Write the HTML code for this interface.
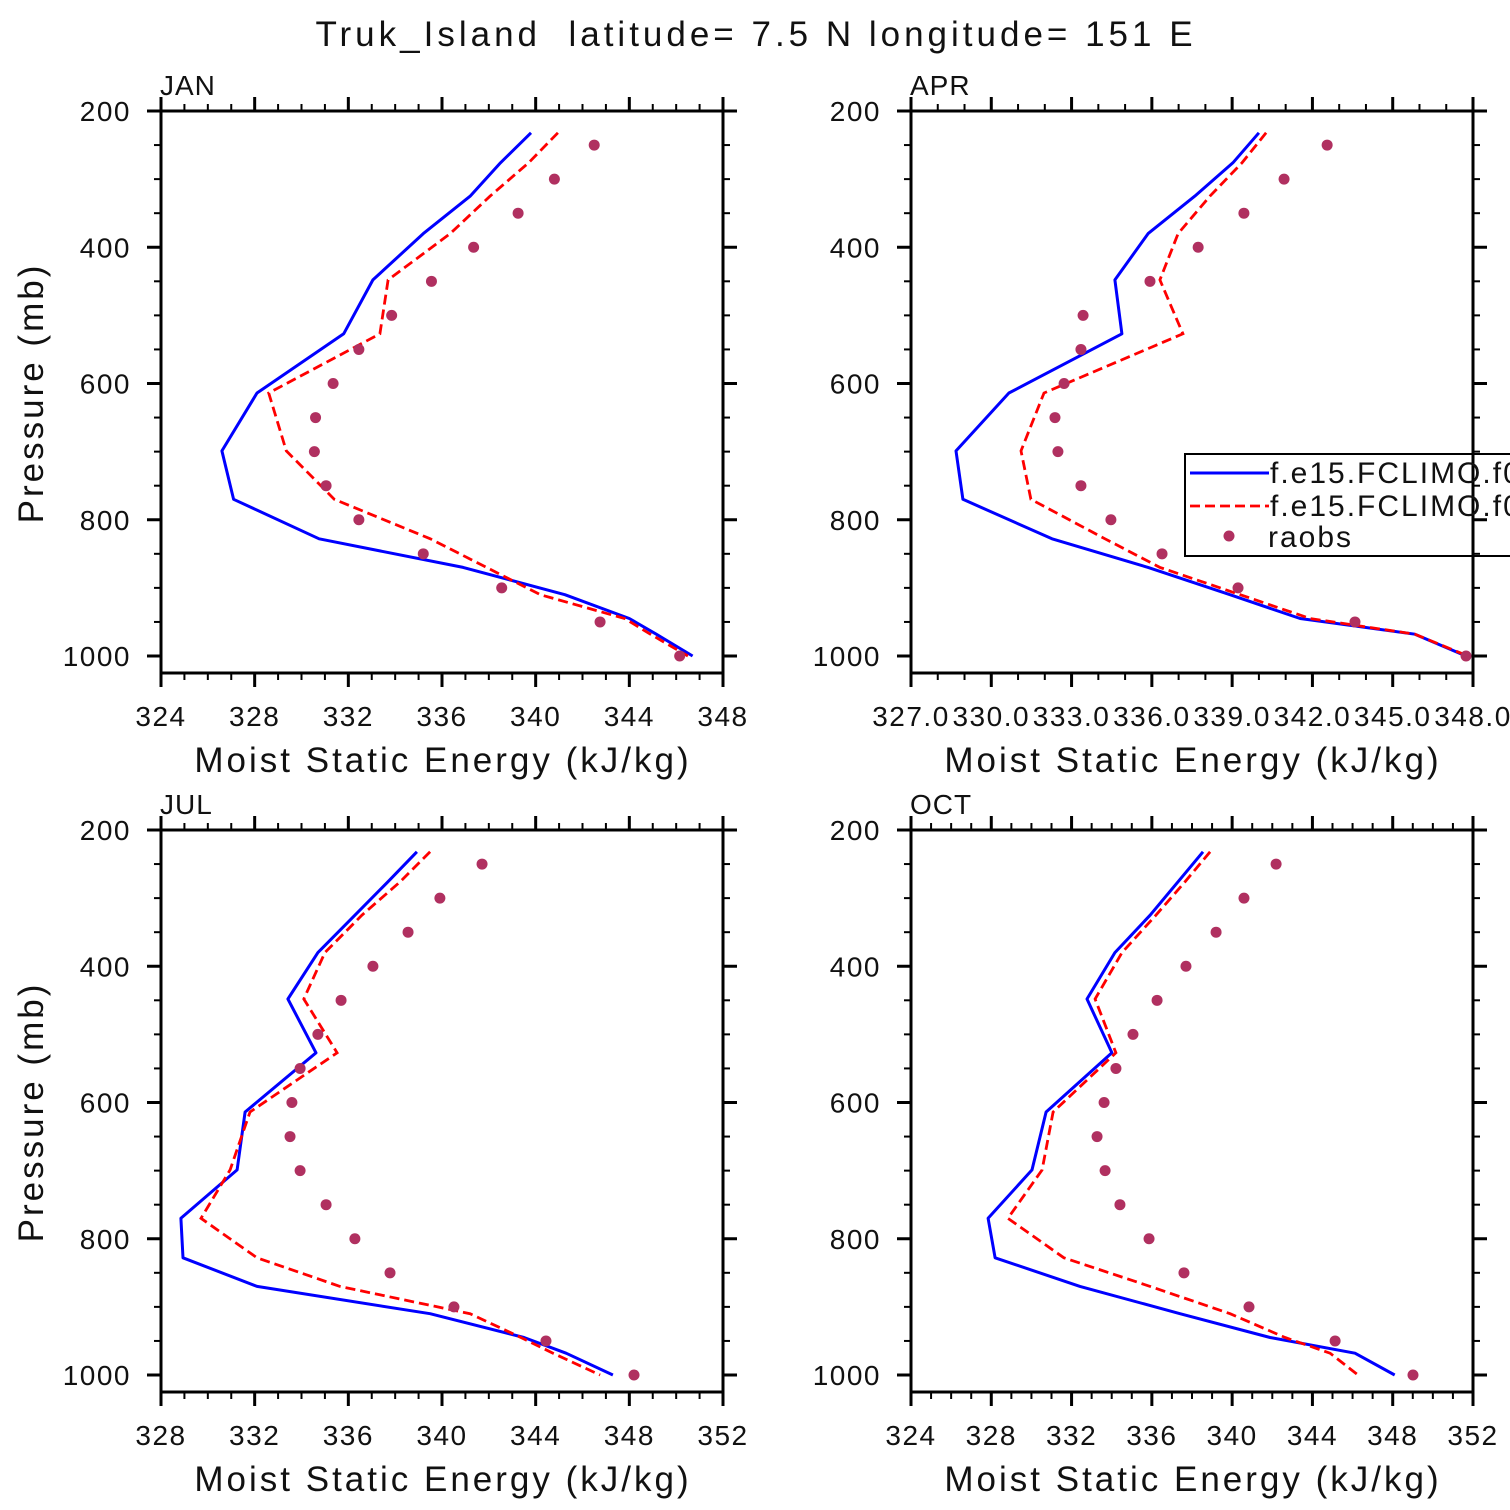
<!DOCTYPE html>
<html><head><meta charset="utf-8"><style>
html,body{margin:0;padding:0;background:#fff;}
svg{display:block;font-family:"Liberation Sans",sans-serif;}
</style></head><body>
<svg id="fig" width="1510" height="1510" viewBox="0 0 1510 1510">
<text x="756" y="46" text-anchor="middle" font-size="35" fill="#111" letter-spacing="4" style="white-space:pre">Truk_Island  latitude= 7.5 N longitude= 151 E</text>
</svg>
<script>
// Shared data
const modelLevels = [232,276,325,380,448,527,614,699,770,828,870,910,945,968,1000];
const obsLevels = [250,300,350,400,450,500,550,600,650,700,750,800,850,900,950,1000];
const yTicks = [200,400,600,800,1000];
// JAN
const janModel1 = [339.8,338.5,337.2,335.2,333.05,331.8,328.1,326.6,327.1,330.75,336.9,341.25,344.0,345.15,346.7];
const janModel2 = [340.95,339.7,338.05,336.35,333.7,333.35,328.6,329.35,331.4,335.5,337.9,340.2,343.8,344.9,346.5];
const janObs = [342.5,340.8,339.25,337.35,335.55,333.85,332.45,331.35,330.6,330.55,331.05,332.45,335.2,338.55,342.75,346.15];
const janTicks = [324,328,332,336,340,344,348];
// APR
const aprModel1 = [340.0,339.03,337.6,335.86,334.62,334.88,330.66,328.68,328.94,332.27,335.86,338.92,341.54,345.83,347.74];
const aprModel2 = [340.27,339.37,338.17,336.98,336.3,337.16,331.97,331.11,331.48,334.25,336.3,339.3,341.91,345.83,347.81];
const aprObs = [342.55,340.94,339.44,337.73,335.93,333.43,333.35,332.72,332.38,332.49,333.35,334.47,336.38,339.22,343.59,347.74];
const aprTicks = [327,330,333,336,339,342,345,348];
// JUL
const julModel1 = [338.93,337.69,336.28,334.7,333.42,334.62,331.59,331.25,328.85,328.94,332.1,339.49,343.5,345.3,347.3];
const julModel2 = [339.49,338.21,336.58,335.0,334.1,335.52,331.8,330.95,329.71,332.1,335.64,341.2,343.37,344.74,346.75];
const julObs = [341.71,339.91,338.55,337.05,335.69,334.7,333.94,333.59,333.51,333.94,335.05,336.28,337.78,340.51,344.44,348.2];
const julTicks = [328,332,336,340,344,348,352];
// OCT
const octModel1 = [338.55,337.3,335.91,334.16,332.77,334.01,330.73,330.03,327.84,328.19,332.42,337.4,341.89,346.12,348.1];
const octModel2 = [338.9,337.65,336.2,334.51,333.17,334.21,331.08,330.53,328.83,331.62,335.91,339.9,342.64,344.88,346.27];
const octObs = [342.19,340.59,339.2,337.7,336.26,335.06,334.21,333.62,333.27,333.67,334.41,335.86,337.6,340.84,345.13,349.01];
const octTicks = [324,328,332,336,340,344,348,352];

const NS = "http://www.w3.org/2000/svg";
const svg = document.getElementById('fig');
function mk(tag, attrs, parent){
  const e = document.createElementNS(NS, tag);
  for (const k in attrs) e.setAttribute(k, attrs[k]);
  (parent||svg).appendChild(e);
  return e;
}

function panel(cfg){
  const g = mk('g', {});
  
  
  const L = cfg.x0, R = cfg.x0 + 562, T = cfg.y0, B = cfg.y0 + 562;
  const pBot = 200 + 800 * 562 / 545;
  const xs = v => L + (v - cfg.xmin) / (cfg.xmax - cfg.xmin) * (R - L);
  const ys = p => T + (p - 200) / (pBot - 200) * (B - T);
  const pts1 = cfg.m1.map((v,i)=> xs(v).toFixed(1)+','+ys(modelLevels[i]).toFixed(1)).join(' ');
  const l1 = mk('polyline', {points: pts1, fill:'none', stroke:'#0000ff', 'stroke-width':3, 'stroke-linejoin':'round'}, g);
  
  
  const pts2 = cfg.m2.map((v,i)=> xs(v).toFixed(1)+','+ys(modelLevels[i]).toFixed(1)).join(' ');
  const l2 = mk('polyline', {points: pts2, fill:'none', stroke:'#ff0000', 'stroke-width':2.8, 'stroke-dasharray':'10,5'}, g);
  
  
  cfg.obs.forEach((v,i)=>{
    const c = mk('circle', {cx: xs(v), cy: ys(obsLevels[i]), r:5.5, fill:'#b03060'}, g);
    
    
  });
  const fr = mk('rect', {x:L, y:T, width:R-L, height:B-T, fill:'none', stroke:'#000', 'stroke-width':3}, g);
  
  
  for (let p = 200; p <= 1000; p += 50){
    const major = p % 200 === 0;
    const len = major ? 14 : 7;
    const y = ys(p);
    mk('line', {x1:L-len, y1:y, x2:L, y2:y, stroke:'#000', 'stroke-width': major?3:2}, g);
    mk('line', {x1:R, y1:y, x2:R+len, y2:y, stroke:'#000', 'stroke-width': major?3:2}, g);
  }
  yTicks.forEach(p=>{
    const t = mk('text', {x:L-30, y:ys(p)+10, 'text-anchor':'end', 'font-size':28, 'letter-spacing':'1.5', fill:'#111'}, g);
    t.textContent = String(p);
    
    
  });
  const step = cfg.ticks[1] - cfg.ticks[0];
  for (let v = cfg.xmin; v <= cfg.xmax + 1e-6; v += cfg.minor){
    const major = Math.abs(((v - cfg.xmin) / step) - Math.round((v - cfg.xmin)/step)) < 1e-6;
    const len = major ? 14 : 7;
    const x = xs(v);
    mk('line', {x1:x, y1:B, x2:x, y2:B+len, stroke:'#000', 'stroke-width': major?3:2}, g);
    mk('line', {x1:x, y1:T-len, x2:x, y2:T, stroke:'#000', 'stroke-width': major?3:2}, g);
  }
  cfg.ticks.forEach(v=>{
    const t = mk('text', {x:xs(v), y:B+53, 'text-anchor':'middle', 'font-size':28, 'letter-spacing':'1.5', fill:'#111'}, g);
    t.textContent = cfg.fmt ? v.toFixed(1) : String(v);
    
    
  });
  const xt = mk('text', {x:(L+R)/2 + 1, y:B+99, 'text-anchor':'middle', 'font-size':35, fill:'#111', 'letter-spacing':'3'}, g);
  xt.textContent = 'Moist Static Energy (kJ/kg)';
  
  
  if (cfg.ytitle){
    const yt = mk('text', {x:0, y:0, 'text-anchor':'middle', 'font-size':35, fill:'#111', 'letter-spacing':'3', transform:'translate('+(L-118)+','+(T+282)+') rotate(-90)'}, g);
    yt.textContent = 'Pressure (mb)';
    
    
  }
  const pl = mk('text', {x:L-1, y:T-16, 'font-size':28, 'letter-spacing':'1', fill:'#111'}, g);
  pl.textContent = cfg.label;
  
  
  return g;
}

panel({name:'jan', label:'JAN', ytitle:true, x0:161, y0:111, xmin:324, xmax:348, minor:1, ticks:janTicks, m1:janModel1, m2:janModel2, obs:janObs});
panel({name:'apr', label:'APR', x0:911, y0:111, xmin:327, xmax:348, minor:1, ticks:aprTicks, fmt:true, m1:aprModel1, m2:aprModel2, obs:aprObs});
panel({name:'jul', label:'JUL', ytitle:true, x0:161, y0:830, xmin:328, xmax:352, minor:1, ticks:julTicks, m1:julModel1, m2:julModel2, obs:julObs});
panel({name:'oct', label:'OCT', x0:911, y0:830, xmin:324, xmax:352, minor:1, ticks:octTicks, m1:octModel1, m2:octModel2, obs:octObs});

const lg = mk('g', {});


mk('rect', {x:1185, y:454, width:340, height:102, fill:'none', stroke:'#000', 'stroke-width':2}, lg);
mk('line', {x1:1190, y1:473, x2:1269, y2:473, stroke:'#0000ff', 'stroke-width':3}, lg);
mk('line', {x1:1190, y1:506, x2:1269, y2:506, stroke:'#ff0000', 'stroke-width':2.8, 'stroke-dasharray':'10,5'}, lg);
mk('circle', {cx:1229, cy:536, r:5.5, fill:'#b03060'}, lg);
const lt1 = mk('text', {x:1270, y:483, 'font-size':30, 'letter-spacing':'2', fill:'#111'}, lg);
lt1.textContent = 'f.e15.FCLIMO.f09';


const lt2 = mk('text', {x:1270, y:516, 'font-size':30, 'letter-spacing':'2', fill:'#111'}, lg);
lt2.textContent = 'f.e15.FCLIMO.f09';


const lt3 = mk('text', {x:1268, y:547, 'font-size':30, 'letter-spacing':'2', fill:'#111'}, lg);
lt3.textContent = 'raobs';


</script>
</body></html>
